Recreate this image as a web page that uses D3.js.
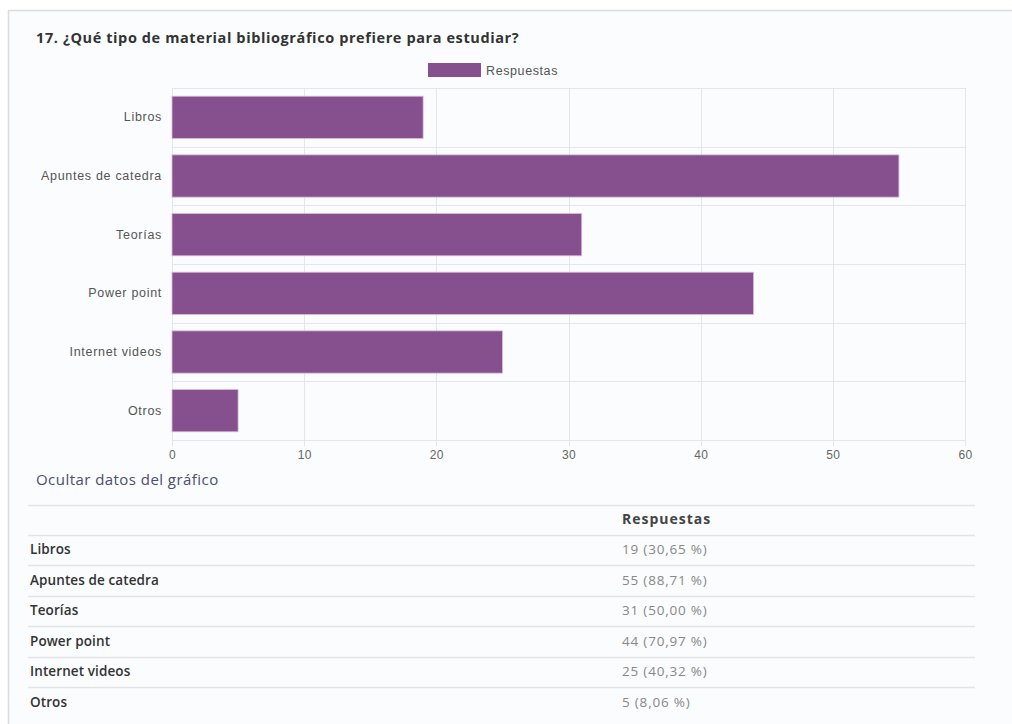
<!DOCTYPE html>
<html><head><meta charset="utf-8">
<script src="https://cdn.jsdelivr.net/npm/d3@7"></script>
<style>
body{margin:0;background:#fff;}
svg{display:block;}
</style></head>
<body>
<svg id="chart" width="1012" height="724"></svg>
<script>
const categories = ["Libros","Apuntes de catedra","Teorías","Power point","Internet videos","Otros"];
const values = [19,55,31,44,25,5];
const percents = ["30,65 %","88,71 %","50,00 %","70,97 %","40,32 %","8,06 %"];
const xTicks = [0,10,20,30,40,50,60];
const seriesName = "Respuestas";
const title = "17. ¿Qué tipo de material bibliográfico prefiere para estudiar?";

const svg = d3.select("#chart");
const barColor = "#86508f";
const sans = "'Liberation Sans', Arial, sans-serif";
const mont = "'Open Sans', sans-serif";

// page background / border
svg.append("rect").attr("x",8).attr("y",10).attr("width",1004).attr("height",714).attr("fill","#fafcfd");
svg.append("line").attr("x1",8).attr("x2",1012).attr("y1",10.5).attr("y2",10.5).attr("stroke","#dcdcdc").attr("stroke-width",1.5);
svg.append("line").attr("x1",8.5).attr("x2",8.5).attr("y1",10).attr("y2",724).attr("stroke","#dcdcdc").attr("stroke-width",1.5);

// title
svg.append("text").attr("x",36).attr("y",43).attr("font-family",mont)
  .attr("font-weight",700).attr("font-size",14.5).attr("letter-spacing",0.6).attr("fill","#333").text(title);

// legend
svg.append("rect").attr("x",428).attr("y",63).attr("width",53).attr("height",14).attr("fill",barColor);
svg.append("text").attr("x",486).attr("y",74.5).attr("font-family",sans)
  .attr("font-size",12.5).attr("letter-spacing",0.6).attr("fill","#555").text(seriesName);

// scales
const x = d3.scaleLinear().domain([0,60]).range([172,965]);
const y = d3.scaleBand().domain(categories).range([88,440]).paddingInner(0.28).paddingOuter(0.14);
const yb = d3.scaleBand().domain(categories).range([88,440]);

const grid = svg.append("g").attr("stroke","#e4e7ea").attr("stroke-width",1);
xTicks.forEach(t=>{
  grid.append("line").attr("x1",Math.round(x(t))+0.5).attr("x2",Math.round(x(t))+0.5).attr("y1",88).attr("y2",446);
});
categories.forEach(c=>{
  grid.append("line").attr("x1",172).attr("x2",965).attr("y1",Math.round(yb(c))+0.5).attr("y2",Math.round(yb(c))+0.5);
});
grid.append("line").attr("x1",172).attr("x2",965).attr("y1",440.5).attr("y2",440.5);

// bars
svg.append("g").selectAll("rect").data(categories).join("rect")
  .attr("x",x(0)).attr("y",d=>y(d)).attr("height",y.bandwidth())
  .attr("width",(d,i)=>x(values[i])-x(0)).attr("fill",barColor)
  .attr("stroke","#d9b8e0").attr("stroke-width",0.8);

// axes
const xAxis = svg.append("g").attr("transform","translate(0,440)")
  .call(d3.axisBottom(x).tickValues(xTicks).tickSize(0).tickPadding(10));
xAxis.select(".domain").remove();
xAxis.selectAll("text").attr("font-family",sans).attr("font-size",12).attr("letter-spacing",0.3).attr("fill","#666");

const yAxis = svg.append("g").attr("transform","translate(172,0)")
  .call(d3.axisLeft(yb).tickSize(0).tickPadding(10));
yAxis.select(".domain").remove();
yAxis.selectAll("text").attr("font-family",sans).attr("font-size",12.5).attr("letter-spacing",0.7).attr("fill","#555");

// "Ocultar datos"
svg.append("text").attr("x",36).attr("y",485).attr("font-family",mont)
  .attr("font-size",15).attr("letter-spacing",0.45).attr("fill","#4b4f6e").text("Ocultar datos del gráfico");

// table
const tbl = svg.append("g").attr("font-family",mont);
const rowLines = [505,535,565,596,626,657,687];
rowLines.forEach(yy=>{
  tbl.append("line").attr("x1",28).attr("x2",975).attr("y1",yy+0.5).attr("y2",yy+0.5).attr("stroke","#e2e4e6").attr("stroke-width",1.5);
});
tbl.append("text").attr("x",622).attr("y",524).attr("font-weight",700).attr("font-size",14)
  .attr("letter-spacing",1).attr("fill","#444").text(seriesName);
categories.forEach((c,i)=>{
  const yy = 554 + i*30.5;
  tbl.append("text").attr("x",30).attr("y",yy).attr("font-weight",600).attr("font-size",13.5)
    .attr("letter-spacing",0.1).attr("fill","#333").text(c);
  tbl.append("text").attr("x",622).attr("y",yy).attr("fill","#888").attr("font-size",13.5)
    .attr("letter-spacing",0.8).text(values[i]+" ("+percents[i]+")");
});
</script>
</body></html>
